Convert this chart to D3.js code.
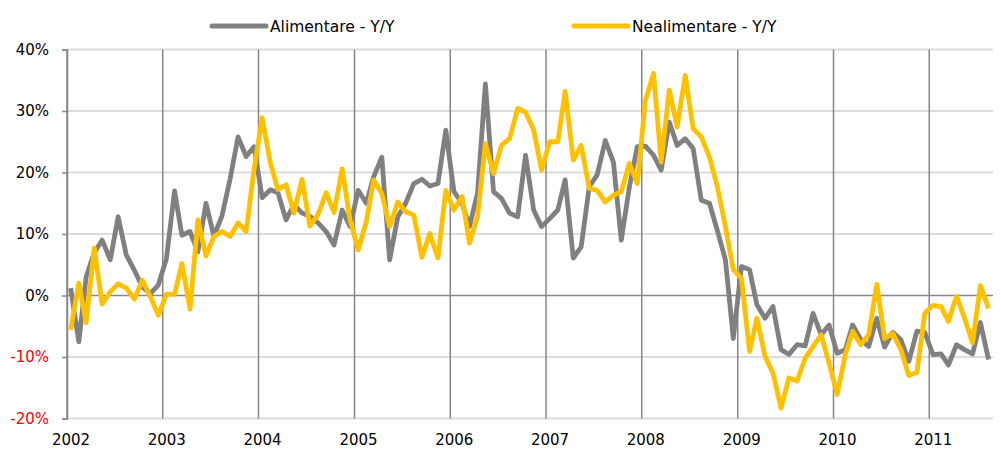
<!DOCTYPE html>
<html lang="ro">
<meta charset="utf-8">
<style>
  body { margin: 0; background: #fff; }
  .line { fill: none; stroke-width: 4.8px; stroke-linejoin: round; }
  text { font-family: "DejaVu Sans", Verdana, sans-serif; }
</style>
<script src="https://d3js.org/d3.v7.min.js"></script>
<body>
<div id="chart"></div>
<script>
// monthly Y/Y change, Jan 2002 .. Aug 2011
const alimentare = [
  1.2, -7.5, 3.0, 7.0, 9.0, 5.8, 12.8, 6.6, 4.1, 1.4, 0.3, 1.7,
  6.0, 17.0, 9.8, 10.4, 7.1, 15.0, 9.6, 13.0, 19.0, 25.8, 22.6, 24.2,
  15.9, 17.2, 16.7, 12.3, 14.8, 13.4, 12.9, 11.8, 10.4, 8.2, 13.9, 11.2,
  17.1, 15.0, 19.3, 22.5, 5.8, 12.8, 15.0, 18.2, 18.9, 17.8, 18.2, 26.9,
  16.9, 15.0, 11.2, 16.6, 34.4, 16.9, 15.8, 13.4, 12.8, 22.8, 13.9, 11.2,
  12.5, 13.9, 18.8, 6.1, 7.9, 17.7, 19.6, 25.2, 21.7, 9.0, 17.7, 24.2,
  24.3, 22.8, 20.4, 28.2, 24.4, 25.5, 23.9, 15.5, 15.0, 10.6, 5.8, -7.0,
  4.7, 4.2, -1.5, -3.7, -1.8, -8.8, -9.6, -8.0, -8.2, -2.9, -6.4, -4.8,
  -9.4, -8.8, -4.8, -7.2, -8.3, -3.7, -8.4, -6.0, -7.2, -10.7, -5.8, -6.0,
  -9.6, -9.5, -11.3, -8.0, -8.8, -9.5, -4.4, -10.4
]
const nealimentare = [
  -5.6, 2.0, -4.4, 7.7, -1.4, 0.6, 1.9, 1.2, -0.6, 2.5, -0.2, -3.2,
  0.2, 0.2, 5.2, -2.2, 12.3, 6.4, 9.6, 10.4, 9.6, 11.8, 10.4, 20.5,
  28.9, 21.6, 17.2, 18.0, 13.4, 18.9, 11.3, 13.2, 16.7, 13.5, 20.6, 12.3,
  7.4, 12.0, 18.8, 16.6, 11.2, 15.2, 13.6, 13.1, 6.2, 10.1, 6.1, 17.1,
  13.9, 16.1, 8.5, 12.8, 24.7, 19.8, 24.4, 25.5, 30.4, 29.8, 26.9, 20.4,
  25.0, 25.0, 33.2, 22.0, 24.4, 17.4, 17.1, 15.2, 16.3, 16.9, 21.5, 18.2,
  31.7, 36.1, 21.7, 33.4, 27.4, 35.8, 27.1, 25.8, 22.5, 17.7, 11.2, 4.2,
  2.8, -9.1, -3.7, -9.9, -12.6, -18.3, -13.4, -13.9, -10.2, -8.3, -6.4, -11.0,
  -16.1, -9.6, -5.8, -8.0, -6.4, 1.8, -7.0, -6.2, -8.8, -13.0, -12.5, -2.9,
  -1.6, -1.8, -4.2, -0.1, -3.6, -7.7, 1.6, -2.1
]
const yTicks = [-20, -10, 0, 10, 20, 30, 40]
const seriesNames = ["Alimentare - Y/Y", "Nealimentare - Y/Y"]
const colors = ["#808080", "#FFC000"]

const WIDTH = 1001
const HEIGHT = 449
const PLOT = { LEFT: 67, RIGHT: 993, TOP: 49.5, BOTTOM: 418.5 }

const months = alimentare.map((d, i) => new Date(2002, i, 15))

const svg = d3.select("#chart").append("svg")
  .attr("width", WIDTH)
  .attr("height", HEIGHT)

const x = d3.scaleTime()
  .domain([new Date(2002, 0, 1), new Date(2011, 8, 1)])
  .range([PLOT.LEFT, PLOT.RIGHT])
const y = d3.scaleLinear()
  .domain([-20, 40])
  .range([PLOT.BOTTOM, PLOT.TOP])

// horizontal grid
svg.append("g").selectAll("line")
  .data(yTicks.filter(d => d !== 0))
  .join("line")
  .attr("x1", PLOT.LEFT).attr("x2", PLOT.RIGHT)
  .attr("y1", d => y(d)).attr("y2", d => y(d))
  .attr("stroke", "#dcdcdc")
  .attr("stroke-width", 2)

// vertical year lines
const years = x.ticks(d3.timeYear.every(1))
svg.append("g").selectAll("line")
  .data(years)
  .join("line")
  .attr("x1", d => x(d)).attr("x2", d => x(d))
  .attr("y1", PLOT.TOP).attr("y2", PLOT.BOTTOM)
  .attr("stroke", "#878787")
  .attr("stroke-width", 1.5)

// zero line
svg.append("line")
  .attr("x1", PLOT.LEFT).attr("x2", PLOT.RIGHT)
  .attr("y1", y(0)).attr("y2", y(0))
  .attr("stroke", "#878787")
  .attr("stroke-width", 1.5)

// y axis
const yAxis = svg.append("g")
  .attr("transform", `translate(${PLOT.LEFT},0)`)
  .call(d3.axisLeft(y).tickValues(yTicks).tickSize(5).tickPadding(13).tickFormat(d => d + "%"))
yAxis.select(".domain").attr("stroke", "#878787").attr("stroke-width", 1.5)
yAxis.selectAll(".tick line").attr("stroke", "#878787").attr("stroke-width", 1.5)
yAxis.selectAll(".tick text")
  .attr("font-size", "15px")
  .attr("font-family", "DejaVu Sans")
  .attr("fill", d => d < 0 ? "#ff0000" : "#000")

// year labels
svg.append("g").selectAll("text")
  .data(years)
  .join("text")
  .attr("x", d => x(d) + 4)
  .attr("y", 444.5)
  .attr("text-anchor", "middle")
  .attr("font-size", "15px")
  .text(d => d.getFullYear())

// lines
const line = d3.line()
  .x((d, i) => x(months[i]))
  .y(d => y(d))

;[alimentare, nealimentare].forEach((s, k) => {
  svg.append("path")
    .attr("class", "line")
    .attr("stroke", colors[k])
    .attr("d", line(s))
})

// legend
const legendX = [212, 574]
seriesNames.forEach((name, k) => {
  svg.append("line")
    .attr("x1", legendX[k]).attr("x2", legendX[k] + 54)
    .attr("y1", 26).attr("y2", 26)
    .attr("stroke", colors[k])
    .attr("stroke-width", 5)
    .attr("stroke-linecap", "round")
  svg.append("text")
    .attr("x", legendX[k] + 58)
    .attr("y", 31.5)
    .attr("font-size", "15.5px")
    .text(name)
})
</script>
</body>
</html>
